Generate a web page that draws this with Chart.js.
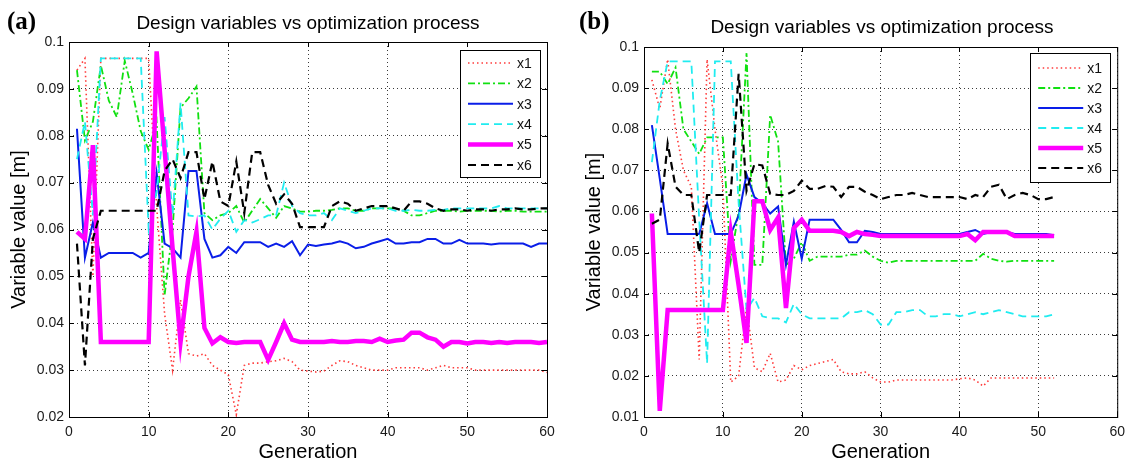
<!DOCTYPE html>
<html>
<head>
<meta charset="utf-8">
<title>Design variables vs optimization process</title>
<script src="https://cdn.jsdelivr.net/npm/chart.js@4.4.0/dist/chart.umd.min.js"></script>
<style>
  body { margin: 0; background: #fff; width: 1132px; height: 465px; overflow: hidden; position: relative;
         font-family: "Liberation Sans", Arial, sans-serif; }
  .panel { position: absolute; top: 0; width: 566px; height: 465px; }
  .tag { position: absolute; font-family: "Liberation Serif", "Times New Roman", serif; font-weight: bold;
         font-size: 25px; line-height: 25px; color: #000; }
  .ttl { position: absolute; font-size: 19px; line-height: 22px; color: #000; white-space: nowrap;
         transform: translateX(-50%); }
</style>
</head>
<body>
<div class="panel" style="left:0"><canvas id="chartA" width="566" height="465"></canvas></div>
<div class="panel" style="left:566px"><canvas id="chartB" width="566" height="465"></canvas></div>
<div class="tag" style="left:7px; top:8px">(a)</div>
<div class="tag" style="left:579px; top:8px">(b)</div>
<div class="ttl" style="left:308px; top:12px">Design variables vs optimization process</div>
<div class="ttl" style="left:882px; top:16px">Design variables vs optimization process</div>
<script>
// generations (x values)
const genA = [1,2,3,4,5,6,7,8,9,10,11,12,13,14,15,16,17,18,19,20,21,22,23,24,25,26,27,28,29,30,
  31,32,33,34,35,36,37,38,39,40,41,42,43,44,45,46,47,48,49,50,51,52,53,54,55,56,57,58,59,60];
const genB = [1,2,3,4,5,6,7,8,9,10,11,12,13,14,15,16,17,18,19,20,21,22,23,24,25,26,
  27,28,29,30,31,32,33,34,35,36,37,38,39,40,41,42,43,44,45,46,47,48,49,50,51,52];

const seriesNames = ["x1", "x2", "x3", "x4", "x5", "x6"];

// tick labels
const xTicks = [0, 10, 20, 30, 40, 50, 60];
const yTicksA = [0.02, 0.03, 0.04, 0.05, 0.06, 0.07, 0.08, 0.09, 0.1];
const yLabelsA = ["0.02", "0.03", "0.04", "0.05", "0.06", "0.07", "0.08", "0.09", "0.1"];
const yTicksB = [0.01, 0.02, 0.03, 0.04, 0.05, 0.06, 0.07, 0.08, 0.09, 0.1];
const yLabelsB = ["0.01", "0.02", "0.03", "0.04", "0.05", "0.06", "0.07", "0.08", "0.09", "0.1"];

// panel (a) values
const a_x1 = [0.094,0.0965,0.050,0.0965,0.0965,0.0965,0.0965,0.0965,0.0965,0.0965,
  0.065,0.042,0.030,0.045,0.0335,0.033,0.0335,0.031,0.030,0.029,
  0.0205,0.031,0.0315,0.0315,0.0318,0.032,0.0325,0.0318,0.030,0.0298,
  0.0296,0.0298,0.031,0.032,0.0318,0.031,0.0305,0.030,0.030,0.030,
  0.0305,0.0305,0.0305,0.0305,0.030,0.0305,0.031,0.0305,0.0305,0.0305,
  0.030,0.030,0.030,0.030,0.030,0.030,0.030,0.030,0.030,0.0295];
const a_x2 = [0.094,0.079,0.083,0.095,0.0875,0.084,0.096,0.089,0.081,0.077,
  0.083,0.046,0.060,0.086,0.088,0.0905,0.0635,0.062,0.063,0.0635,
  0.065,0.0615,0.064,0.0665,0.0645,0.0625,0.065,0.0645,0.0638,0.0638,
  0.064,0.064,0.0642,0.0645,0.0645,0.064,0.064,0.0645,0.0645,0.0645,
  0.0645,0.064,0.063,0.063,0.0635,0.064,0.064,0.064,0.0638,0.064,
  0.064,0.064,0.064,0.0638,0.064,0.064,0.0638,0.0638,0.0638,0.0638];
const a_x3 = [0.0815,0.054,0.0615,0.054,0.055,0.055,0.055,0.055,0.054,0.055,
  0.072,0.057,0.056,0.054,0.0725,0.0725,0.058,0.054,0.0545,0.0563,
  0.055,0.0573,0.0573,0.0573,0.0563,0.057,0.0563,0.0575,0.0545,0.0568,
  0.0565,0.0568,0.057,0.0575,0.057,0.056,0.0563,0.057,0.0575,0.058,
  0.057,0.057,0.0573,0.0573,0.058,0.058,0.057,0.057,0.0578,0.057,
  0.057,0.057,0.0568,0.057,0.057,0.057,0.057,0.0563,0.057,0.057];
const a_x4 = [0.075,0.083,0.063,0.0965,0.0965,0.0965,0.0965,0.0965,0.0965,0.060,
  0.068,0.084,0.063,0.087,0.063,0.0628,0.063,0.060,0.0623,0.064,
  0.0595,0.062,0.0615,0.0622,0.063,0.063,0.070,0.065,0.0635,0.063,
  0.063,0.0635,0.062,0.0645,0.064,0.0635,0.064,0.0645,0.0645,0.0645,
  0.064,0.064,0.0642,0.064,0.064,0.0642,0.0642,0.0645,0.0645,0.0645,
  0.0645,0.0645,0.0645,0.065,0.0645,0.0645,0.0645,0.0645,0.0645,0.0645];
const a_x5 = [0.0595,0.058,0.078,0.036,0.036,0.036,0.036,0.036,0.036,0.036,
  0.098,0.077,0.056,0.036,0.050,0.0595,0.039,0.0357,0.037,0.036,
  0.0358,0.036,0.036,0.036,0.0322,0.036,0.040,0.0365,0.036,0.036,
  0.036,0.036,0.0362,0.036,0.036,0.0362,0.0362,0.036,0.0367,0.036,
  0.0363,0.0365,0.038,0.038,0.037,0.0365,0.035,0.036,0.036,0.0357,
  0.036,0.036,0.0358,0.036,0.0358,0.036,0.036,0.036,0.0358,0.036];
const a_x6 = [0.057,0.031,0.058,0.064,0.064,0.064,0.064,0.064,0.064,0.064,
  0.064,0.0725,0.075,0.071,0.0765,0.0765,0.0665,0.0745,0.066,0.065,
  0.0745,0.0635,0.0765,0.0765,0.0695,0.0655,0.0675,0.0655,0.0605,0.0605,
  0.0605,0.0605,0.065,0.066,0.0655,0.064,0.0645,0.065,0.065,0.065,
  0.0645,0.064,0.066,0.066,0.0655,0.0645,0.064,0.0643,0.0643,0.064,
  0.0643,0.0643,0.064,0.0643,0.0643,0.0645,0.0643,0.0643,0.0645,0.0645];

// panel (b) values
const b_x1 = [0.092,0.085,0.097,0.080,0.070,0.066,0.024,0.097,0.080,0.066,
  0.0185,0.020,0.037,0.022,0.021,0.0255,0.0185,0.019,0.0225,0.0215,
  0.0225,0.023,0.0235,0.024,0.021,0.0205,0.0205,0.021,0.0195,0.0185,
  0.0185,0.019,0.019,0.019,0.019,0.019,0.019,0.019,0.019,0.0193,
  0.0195,0.019,0.0175,0.0195,0.0195,0.0195,0.0195,0.0195,0.0195,0.0195,
  0.0195,0.0195];
const b_x2 = [0.094,0.094,0.091,0.095,0.080,0.077,0.074,0.078,0.078,0.078,
  0.048,0.060,0.0985,0.047,0.047,0.0835,0.077,0.047,0.0485,0.0525,
  0.048,0.049,0.049,0.049,0.049,0.0495,0.0495,0.0505,0.049,0.048,
  0.0475,0.048,0.048,0.048,0.048,0.048,0.048,0.048,0.048,0.048,
  0.048,0.048,0.0497,0.0485,0.048,0.0478,0.048,0.048,0.048,0.048,
  0.048,0.048];
const b_x3 = [0.081,0.068,0.0545,0.0545,0.0545,0.0545,0.0545,0.062,0.0545,0.0545,
  0.0545,0.059,0.069,0.0635,0.062,0.0595,0.0612,0.047,0.0575,0.0485,
  0.058,0.058,0.058,0.058,0.0555,0.0525,0.0525,0.0553,0.055,0.0545,
  0.0545,0.0545,0.0545,0.0545,0.0545,0.0545,0.0545,0.0545,0.0545,0.0545,
  0.055,0.0555,0.0545,0.055,0.055,0.055,0.0545,0.0545,0.0545,0.0545,
  0.0545,0.0542];
const b_x4 = [0.072,0.087,0.0965,0.0965,0.0965,0.0965,0.058,0.023,0.0965,0.0965,
  0.0965,0.062,0.036,0.039,0.0345,0.034,0.034,0.033,0.0375,0.035,
  0.034,0.034,0.034,0.034,0.034,0.0355,0.0355,0.036,0.035,0.0325,
  0.0325,0.0355,0.0355,0.036,0.036,0.0345,0.0345,0.035,0.035,0.0345,
  0.035,0.0355,0.035,0.0355,0.036,0.0355,0.035,0.0345,0.0345,0.0345,
  0.0345,0.035];
const b_x5 = [0.0595,0.0115,0.036,0.036,0.036,0.036,0.036,0.036,0.036,0.036,
  0.055,0.042,0.028,0.0625,0.0625,0.0555,0.0585,0.0365,0.056,0.058,
  0.0553,0.0553,0.0553,0.0553,0.055,0.054,0.055,0.0545,0.0543,0.054,
  0.054,0.054,0.054,0.054,0.054,0.054,0.054,0.054,0.054,0.054,
  0.0545,0.053,0.055,0.055,0.055,0.055,0.054,0.054,0.054,0.054,
  0.054,0.054];
const b_x6 = [0.057,0.058,0.0765,0.066,0.064,0.064,0.050,0.064,0.064,0.064,
  0.064,0.0935,0.065,0.0715,0.0712,0.0643,0.064,0.064,0.065,0.0675,
  0.0655,0.0655,0.0662,0.066,0.0635,0.066,0.066,0.0648,0.064,0.063,
  0.0635,0.064,0.064,0.0645,0.064,0.0635,0.0635,0.0635,0.0635,0.0635,
  0.063,0.064,0.0635,0.066,0.0665,0.063,0.064,0.0645,0.064,0.063,
  0.063,0.0635];

// matlab-ish line styles for x1..x6
const styles = [
  { color: "#ff3b3b", width: 1.6, dash: [1.5, 3] },
  { color: "#10e010", width: 1.8, dash: [7, 3, 2, 3] },
  { color: "#0a1ee8", width: 2, dash: [] },
  { color: "#20ecf0", width: 1.8, dash: [8, 5] },
  { color: "#ff00ff", width: 4.5, dash: [] },
  { color: "#000000", width: 2.2, dash: [8, 5] }
];

const FONT = '"Liberation Sans", Arial, sans-serif';
Chart.defaults.font.family = FONT;

// frame with inward ticks + matlab style legend box
const frameLegend = {
  id: "frameLegend",
  afterDraw(chart, args, opts) {
    const { ctx, chartArea: a, scales } = chart;
    ctx.save();
    ctx.setLineDash([]);
    ctx.strokeStyle = "#000";
    ctx.lineWidth = 1;
    ctx.strokeRect(a.left + 0.5, a.top + 0.5, a.right - a.left, a.bottom - a.top);
    ctx.beginPath();
    scales.x.ticks.forEach(t => {
      const px = Math.round(scales.x.getPixelForValue(t.value)) + 0.5;
      ctx.moveTo(px, a.bottom); ctx.lineTo(px, a.bottom - 5);
      ctx.moveTo(px, a.top); ctx.lineTo(px, a.top + 5);
    });
    scales.y.ticks.forEach(t => {
      const py = Math.round(scales.y.getPixelForValue(t.value)) + 0.5;
      ctx.moveTo(a.left, py); ctx.lineTo(a.left + 5, py);
      ctx.moveTo(a.right, py); ctx.lineTo(a.right - 5, py);
    });
    ctx.stroke();

    // legend
    const bx = a.right - opts.right - opts.w, by = a.top + opts.top;
    ctx.fillStyle = "#fff";
    ctx.fillRect(bx, by, opts.w, opts.h);
    ctx.strokeRect(Math.round(bx) + 0.5, Math.round(by) + 0.5, opts.w, opts.h);
    ctx.font = "14px " + FONT;
    ctx.textBaseline = "middle";
    chart.data.datasets.forEach((ds, i) => {
      const y = by + opts.first + i * opts.step;
      ctx.save();
      ctx.strokeStyle = ds.borderColor;
      ctx.lineWidth = ds.borderWidth;
      ctx.setLineDash(ds.borderDash);
      ctx.beginPath();
      ctx.moveTo(bx + 8, y); ctx.lineTo(bx + 53, y);
      ctx.stroke();
      ctx.restore();
      ctx.fillStyle = "#111";
      ctx.fillText(ds.label, bx + 57, y + 1);
    });
    ctx.restore();
  }
};

function makeChart(id, gens, series, yTicks, yLabels, geo) {
  const datasets = series.map((vals, i) => ({
    label: seriesNames[i],
    data: vals.map((v, j) => ({ x: gens[j], y: v })),
    borderColor: styles[i].color,
    borderWidth: styles[i].width,
    borderDash: styles[i].dash,
    pointRadius: 0,
    tension: 0,
    fill: false,
    order: 6 - i
  }));
  return new Chart(document.getElementById(id), {
    type: "line",
    data: { datasets: datasets },
    plugins: [frameLegend],
    options: {
      responsive: false,
      animation: false,
      devicePixelRatio: 1,
      layout: { padding: { top: geo.top, right: geo.right, left: 0, bottom: 0 } },
      plugins: {
        legend: { display: false },
        tooltip: { enabled: false },
        frameLegend: geo.legend
      },
      scales: {
        x: {
          type: "linear",
          min: 0, max: 60,
          afterBuildTicks: s => { s.ticks = xTicks.map(v => ({ value: v })); },
          afterFit: s => { s.height = 48; },
          grid: { color: "#3a3a3a", lineWidth: 1, drawTicks: false },
          border: { display: false, dash: [1, 3] },
          ticks: { padding: 7, color: "#1a1a1a", font: { size: 14 }, maxRotation: 0, autoSkip: false },
          title: { display: true, text: "Generation", color: "#000", font: { size: 20 },
                   padding: { top: 0, bottom: 1 } }
        },
        y: {
          type: "linear",
          min: yTicks[0], max: yTicks[yTicks.length - 1],
          afterBuildTicks: s => { s.ticks = yTicks.map(v => ({ value: v })); },
          afterFit: s => { s.width = geo.yWidth; },
          grid: { color: "#3a3a3a", lineWidth: 1, drawTicks: false },
          border: { display: false, dash: [1, 3] },
          ticks: { padding: 5, color: "#1a1a1a", font: { size: 14 }, autoSkip: false,
                   callback: (v, i) => yLabels[i] },
          title: { display: true, text: "Variable value [m]", color: "#000", font: { size: 20 },
                   padding: { top: geo.yTitlePad, bottom: 0 } }
        }
      }
    }
  });
}

makeChart("chartA", genA, [a_x1, a_x2, a_x3, a_x4, a_x5, a_x6], yTicksA, yLabelsA,
  { top: 42, right: 19, yWidth: 69, yTitlePad: 7,
    legend: { right: 7, top: 8, w: 80, h: 127, first: 13, step: 20.4 } });
makeChart("chartB", genB, [b_x1, b_x2, b_x3, b_x4, b_x5, b_x6], yTicksB, yLabelsB,
  { top: 47, right: 12, yWidth: 78, yTitlePad: 16,
    legend: { right: 7, top: 6, w: 80, h: 129, first: 15, step: 20 } });
</script>
</body>
</html>
